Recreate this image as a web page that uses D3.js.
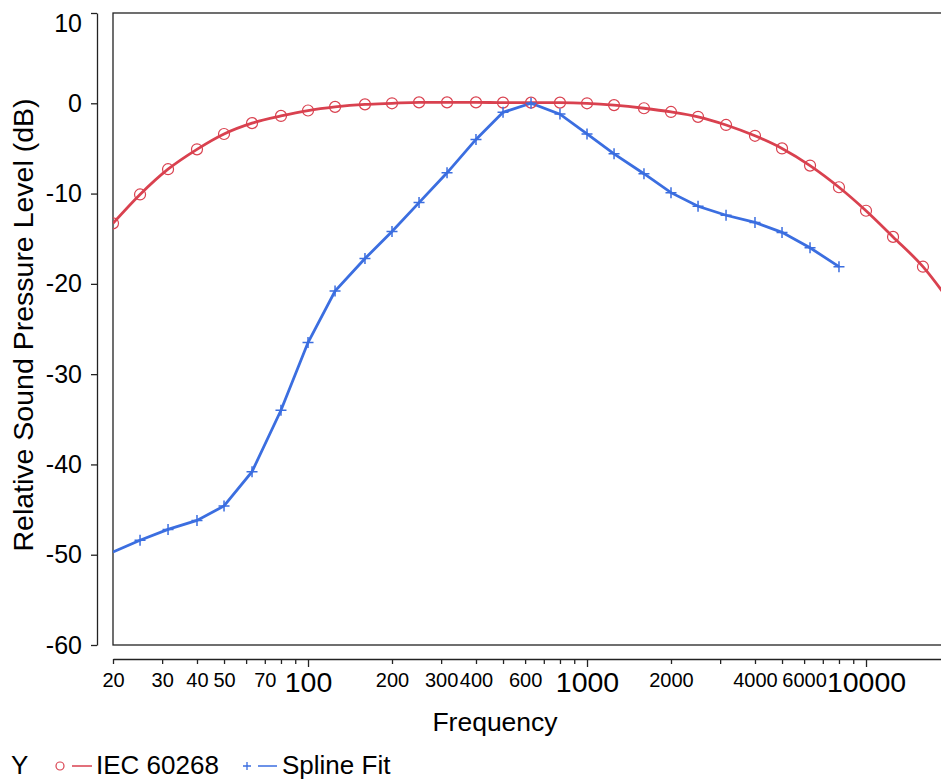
<!DOCTYPE html>
<html>
<head>
<meta charset="utf-8">
<script src="https://cdn.jsdelivr.net/npm/d3@7"></script>
<style>
  html, body { margin: 0; padding: 0; background: #fff; }
  svg { display: block; font-family: "Liberation Sans", Arial, sans-serif; }
</style>
</head>
<body>
<svg id="chart" width="941" height="780"></svg>
<script>
// ---- data ----
const freqIEC = [20, 25, 31.5, 40, 50, 63, 80, 100, 125, 160, 200, 250, 315, 400, 500, 630, 800, 1000, 1250, 1600, 2000, 2500, 3150, 4000, 5000, 6300, 8000, 10000, 12500, 16000, 20000];
const iecValues = [-13.3, -10.1, -7.3, -5.1, -3.4, -2.2, -1.4, -0.8, -0.4, -0.12, 0, 0.1, 0.1, 0.1, 0.07, 0.07, 0.07, 0, -0.2, -0.55, -0.96, -1.5, -2.4, -3.6, -5.0, -6.9, -9.3, -11.9, -14.8, -18.1, -22.0];
const freqSpline = [20, 25, 31.5, 40, 50, 63, 80, 100, 125, 160, 200, 250, 315, 400, 500, 630, 800, 1000, 1250, 1600, 2000, 2500, 3150, 4000, 5000, 6300, 8000];
const splineValues = [-49.7, -48.4, -47.2, -46.2, -44.6, -40.8, -34.0, -26.5, -20.8, -17.2, -14.2, -11.0, -7.7, -4.0, -1.0, 0.0, -1.2, -3.4, -5.6, -7.8, -9.9, -11.4, -12.4, -13.2, -14.3, -16.0, -18.1];
const xTickValues = [20, 30, 40, 50, 60, 70, 80, 90, 100, 200, 300, 400, 500, 600, 700, 800, 900, 1000, 2000, 3000, 4000, 5000, 6000, 7000, 8000, 9000, 10000, 20000];
const xLabelled = [20, 30, 40, 50, 70, 100, 200, 300, 400, 600, 1000, 2000, 4000, 6000, 10000];
const xMajor = [100, 1000, 10000];
const yTickValues = [10, 0, -10, -20, -30, -40, -50, -60];
const seriesNames = ["IEC 60268", "Spline Fit"];

const RED = "#d9414f", BLUE = "#3b6ee0", AX = "#222";

const svg = d3.select("#chart");
const pL = 113, pR = 950, pT = 13, pB = 645;

const x = d3.scaleLog().domain([20, 20000]).range([pL, pR]);
const y = d3.scaleLinear().domain([-60, 10]).range([pB, pT]);

// clip
svg.append("defs").append("clipPath").attr("id", "clip")
  .append("rect").attr("x", pL).attr("y", pT).attr("width", pR - pL).attr("height", pB - pT);

// frame
svg.append("rect").attr("x", pL).attr("y", pT).attr("width", pR - pL).attr("height", pB - pT)
  .attr("fill", "none").attr("stroke", AX).attr("stroke-width", 1.3);

// y axis (offset)
const yAxis = svg.append("g").attr("transform", "translate(97,0)")
  .call(d3.axisLeft(y).tickValues(yTickValues).tickFormat(d3.format("d")).tickSize(6).tickSizeOuter(0).tickPadding(9));
yAxis.select(".domain").attr("stroke", AX).attr("stroke-width", 1.3);
yAxis.selectAll(".tick line").attr("stroke", AX).attr("stroke-width", 1.3);
yAxis.selectAll(".tick text").attr("font-size", 25).attr("fill", "#000")
  .attr("font-family", "Liberation Sans, Arial, sans-serif")
  .text(d => d < 0 ? "-" + Math.abs(d) : d);
yAxis.selectAll(".tick").filter(d => d === 10).select("text").attr("dy", "0.75em");

// x axis (offset)
const xAxis = svg.append("g").attr("transform", "translate(0,659)")
  .call(d3.axisBottom(x).tickValues(xTickValues).tickFormat(d => xLabelled.includes(d) ? d : "")
    .tickSize(5).tickSizeOuter(0).tickPadding(4));
xAxis.select(".domain").attr("stroke", AX).attr("stroke-width", 1.3);
xAxis.selectAll(".tick line").attr("stroke", AX).attr("stroke-width", 1.3)
  .attr("y2", d => xMajor.includes(d) ? 8 : 5);
xAxis.selectAll(".tick text").attr("fill", "#000")
  .attr("font-family", "Liberation Sans, Arial, sans-serif")
  .attr("font-size", d => xMajor.includes(d) ? 28.5 : 20)
  .attr("dy", null)
  .attr("y", d => xMajor.includes(d) ? 33 : 28);

// data layers
const plot = svg.append("g").attr("clip-path", "url(#clip)");
const iecData = freqIEC.map((f, i) => ({ f, v: iecValues[i] }));
const splData = freqSpline.map((f, i) => ({ f, v: splineValues[i] }));

plot.append("path").datum(iecData)
  .attr("d", d3.line().x(d => x(d.f)).y(d => y(d.v)).curve(d3.curveMonotoneX))
  .attr("fill", "none").attr("stroke", RED).attr("stroke-width", 2.8);
plot.append("path").datum(splData)
  .attr("d", d3.line().x(d => x(d.f)).y(d => y(d.v)))
  .attr("fill", "none").attr("stroke", BLUE).attr("stroke-width", 2.8);

plot.selectAll("circle.iec").data(iecData).join("circle").attr("class", "iec")
  .attr("cx", d => x(d.f)).attr("cy", d => y(d.v)).attr("r", 5.5)
  .attr("fill", "none").attr("stroke", RED).attr("stroke-width", 1.2);

const plusSize = 5.5;
plot.selectAll("path.plus").data(splData.filter(d => d.f > 20)).join("path").attr("class", "plus")
  .attr("d", d => {
    const cx = x(d.f), cy = y(d.v);
    return `M${cx - plusSize},${cy}H${cx + plusSize}M${cx},${cy - plusSize}V${cy + plusSize}`;
  })
  .attr("stroke", BLUE).attr("stroke-width", 1.5).attr("fill", "none");

// axis titles
svg.append("text").attr("x", 495).attr("y", 731).attr("text-anchor", "middle")
  .attr("font-size", 26.5).attr("fill", "#000").text("Frequency");
svg.append("text").attr("transform", "translate(33,325) rotate(-90)").attr("text-anchor", "middle")
  .attr("font-size", 28.5).attr("fill", "#000").text("Relative Sound Pressure Level (dB)");

// legend
const lg = svg.append("g");
lg.append("text").attr("x", 11).attr("y", 774).attr("font-size", 26).attr("fill", "#000").text("Y");
lg.append("circle").attr("cx", 60).attr("cy", 766).attr("r", 4).attr("fill", "none").attr("stroke", RED).attr("stroke-width", 1.2);
lg.append("line").attr("x1", 72).attr("x2", 92).attr("y1", 766).attr("y2", 766).attr("stroke", RED).attr("stroke-width", 1.5);
lg.append("text").attr("x", 96).attr("y", 774).attr("font-size", 26).attr("fill", "#000").text(seriesNames[0]);
lg.append("path").attr("d", "M243,766H251M247,762V770").attr("stroke", BLUE).attr("stroke-width", 1.3);
lg.append("line").attr("x1", 258).attr("x2", 277).attr("y1", 766).attr("y2", 766).attr("stroke", BLUE).attr("stroke-width", 1.5);
lg.append("text").attr("x", 282).attr("y", 774).attr("font-size", 26).attr("fill", "#000").text(seriesNames[1]);
</script>
</body>
</html>
